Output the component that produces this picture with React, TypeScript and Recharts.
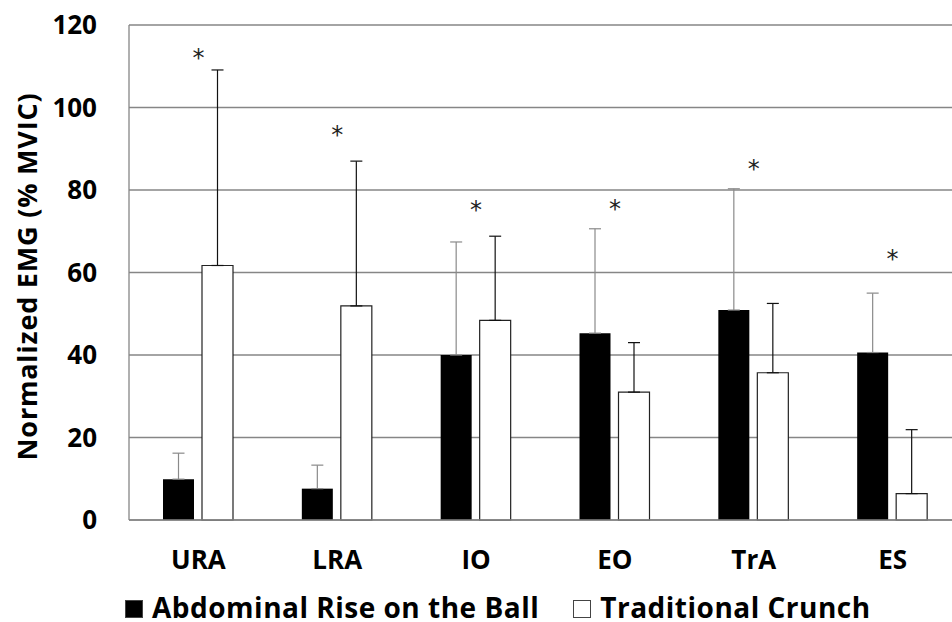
import {
  ComposedChart,
  Bar,
  Scatter,
  ErrorBar,
  XAxis,
  YAxis,
  CartesianGrid,
  Legend,
} from "recharts";

const MUSCLES = ["URA", "LRA", "IO", "EO", "TrA", "ES"];
const BALL_MEAN = [9.9, 7.6, 40.0, 45.3, 50.9, 40.6];
const BALL_SD = [6.3, 5.7, 27.4, 25.3, 29.4, 14.4];
const CRUNCH_MEAN = [61.7, 51.9, 48.4, 31.0, 35.7, 6.4];
const CRUNCH_SD = [47.4, 35.1, 20.4, 12.0, 16.8, 15.5];
const STAR_Y = [113.5, 94.7, 76.6, 76.9, 86.6, 64.8];
const Y_TICKS = [0, 20, 40, 60, 80, 100, 120];

const SERIES = [
  { key: "ball", name: "Abdominal Rise on the Ball", fill: "#000000" },
  { key: "crunch", name: "Traditional Crunch", fill: "#ffffff" },
];

const data = MUSCLES.map((m, i) => ({
  muscle: m,
  ball: BALL_MEAN[i],
  ballErr: [0, BALL_SD[i]],
  crunch: CRUNCH_MEAN[i],
  crunchErr: [0, CRUNCH_SD[i]],
  star: STAR_Y[i],
}));

const FONT = "'Open Sans', Lato, sans-serif";
const GRID = "#868686";

function Star(props: any) {
  const { cx, cy } = props;
  return (
    <text
      x={cx}
      y={cy + 14}
      textAnchor="middle"
      fontFamily="'DejaVu Sans', sans-serif"
      fontSize={24}
      fill="#222"
    >
      *
    </text>
  );
}

function YLabel(props: any) {
  const vb = props.viewBox ?? { y: 25, height: 494 };
  const cy = vb.y + vb.height / 2 + 4;
  return (
    <text
      x={37}
      y={cy}
      transform={`rotate(-90, 37, ${cy})`}
      textAnchor="middle"
      fontFamily={FONT}
      fontWeight="bold"
      fontSize={27}
      letterSpacing={0.8}
      fill="#000"
    >
      Normalized EMG (% MVIC)
    </text>
  );
}

function LegendBox(props: any) {
  const items = (props.payload ?? []).filter((p: any) =>
    SERIES.some((s) => s.key === p.dataKey)
  );
  return (
    <div
      style={{
        display: "flex",
        fontFamily: FONT,
        fontWeight: "bold",
        fontSize: 28,
        lineHeight: "28px",
        letterSpacing: 0.5,
      }}
    >
      {items.map((p: any, i: number) => (
        <div
          key={p.dataKey}
          style={{ display: "flex", alignItems: "center", marginRight: i === 0 ? 34 : 0 }}
        >
          <span
            style={{
              display: "inline-block",
              width: 16,
              height: 16,
              background: p.color,
              border: "1px solid #444",
              marginRight: 9,
              marginTop: 3,
            }}
          />
          <span>{p.value}</span>
        </div>
      ))}
    </div>
  );
}

export default function App() {
  return (
    <div
      style={{
        position: "absolute",
        left: 0,
        top: 0,
        width: 952,
        height: 622,
        overflow: "hidden",
        background: "#fff",
      }}
    >
      <ComposedChart
        width={980}
        height={622}
        data={data}
        margin={{ top: 25, right: 18, left: 0, bottom: 42 }}
        barGap={8}
      >
        <CartesianGrid vertical={false} stroke={GRID} strokeWidth={1.3} />
        <XAxis
          dataKey="muscle"
          height={60}
          tickLine={false}
          tickSize={0}
          tickMargin={31}
          axisLine={{ stroke: GRID, strokeWidth: 1.3 }}
          tick={{ fill: "#000", fontSize: 26, fontWeight: "bold", fontFamily: FONT }}
        />
        <YAxis
          width={129}
          domain={[0, 120]}
          ticks={Y_TICKS}
          interval={0}
          tickLine={false}
          tickSize={0}
          tickMargin={32}
          axisLine={{ stroke: GRID, strokeWidth: 1.3 }}
          tick={{ fill: "#000", fontSize: 26, fontWeight: "bold", fontFamily: FONT }}
          label={<YLabel />}
        />
        <Legend
          verticalAlign="middle"
          layout="horizontal"
          content={<LegendBox />}
          wrapperStyle={{ top: 593, left: 125, width: 820 }}
        />
        <Bar
          dataKey="ball"
          name={SERIES[0].name}
          fill={SERIES[0].fill}
          barSize={31}
          isAnimationActive={false}
        >
          <ErrorBar dataKey="ballErr" direction="y" width={6} stroke="#8a8a8a" strokeWidth={1.2} />
        </Bar>
        <Bar
          dataKey="crunch"
          name={SERIES[1].name}
          fill={SERIES[1].fill}
          stroke="#222"
          strokeWidth={1.2}
          barSize={31}
          isAnimationActive={false}
        >
          <ErrorBar dataKey="crunchErr" direction="y" width={6} stroke="#111" strokeWidth={1.2} />
        </Bar>
        <Scatter dataKey="star" shape={<Star />} legendType="none" isAnimationActive={false} />
      </ComposedChart>
    </div>
  );
}
